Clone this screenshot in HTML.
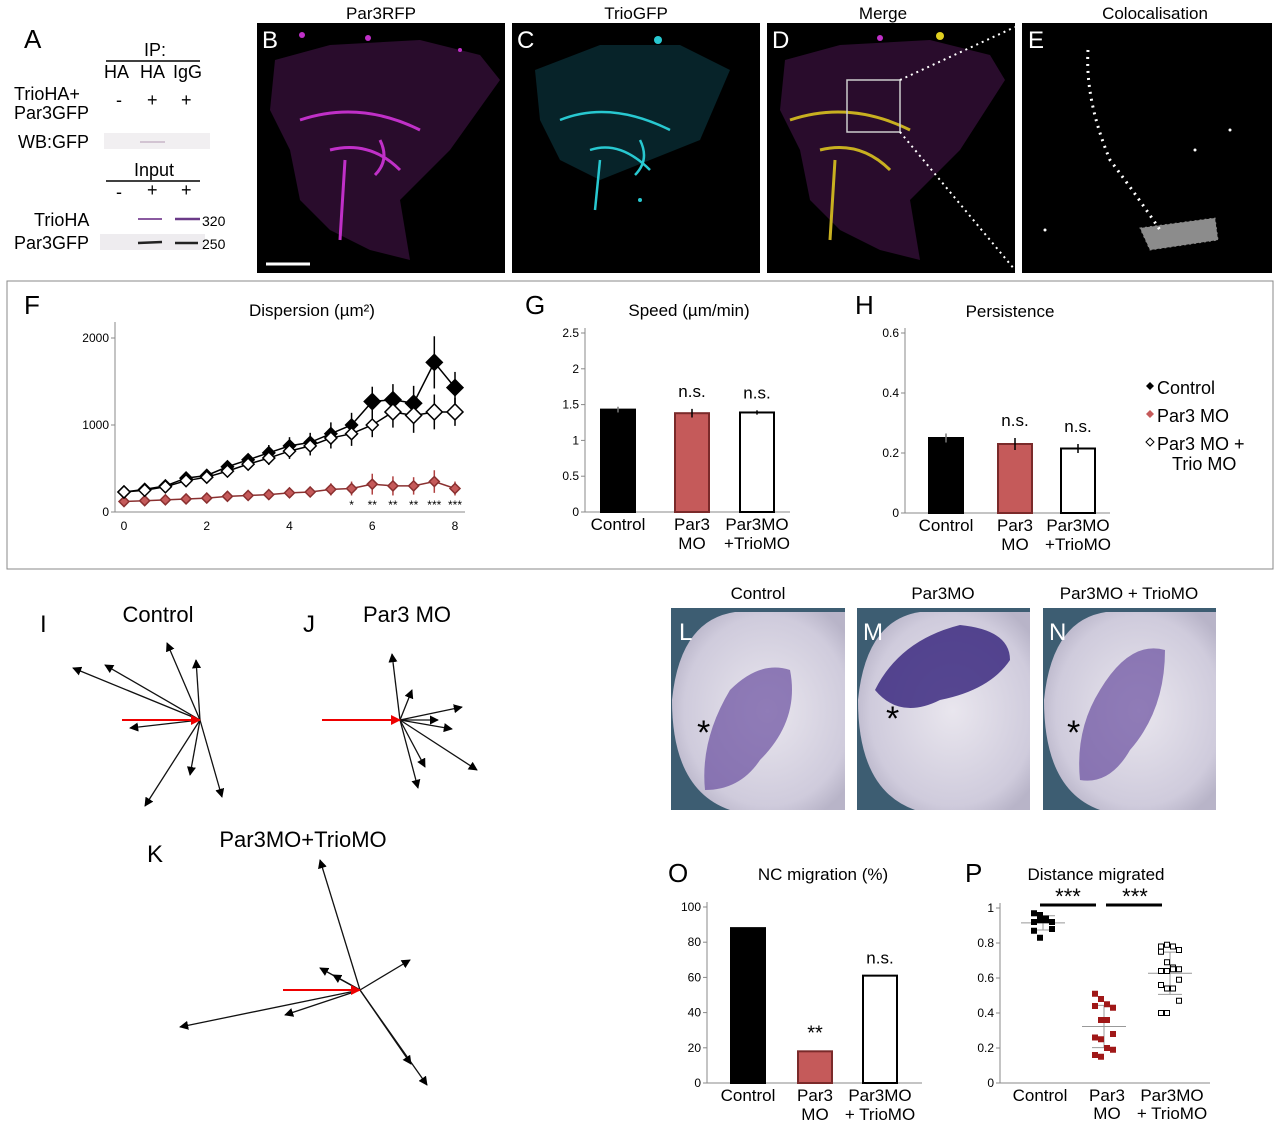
<!DOCTYPE html>
<html><head><meta charset="utf-8"><style>
html,body{margin:0;padding:0;background:#fff;}
svg{display:block;font-family:"Liberation Sans",Arial,sans-serif;}
</style></head><body>
<svg id="fig" width="1280" height="1126" viewBox="0 0 1280 1126" xmlns="http://www.w3.org/2000/svg">
<defs>
<marker id="ah" viewBox="0 0 10 10" refX="9" refY="5" markerWidth="7" markerHeight="7" orient="auto"><path d="M0,0L10,5L0,10z" fill="#000"/></marker>
<marker id="ahr" viewBox="0 0 10 10" refX="9" refY="5" markerWidth="5" markerHeight="5" orient="auto"><path d="M0,0L10,5L0,10z" fill="#e00"/></marker>
<radialGradient id="emb" cx="0.55" cy="0.5" r="0.6"><stop offset="0" stop-color="#e9e6ee"/><stop offset="0.8" stop-color="#cfcbdc"/><stop offset="1" stop-color="#b8b4c8"/></radialGradient>
</defs>

<!-- Panel A -->
<g font-size="18">
<text x="24" y="48" font-size="26">A</text>
<text x="155" y="56" text-anchor="middle">IP:</text>
<line x1="106" y1="61" x2="200" y2="61" stroke="#000" stroke-width="1.5"/>
<text x="104" y="78">HA</text><text x="140" y="78">HA</text><text x="173" y="78">IgG</text>
<text x="14" y="100">TrioHA+</text><text x="14" y="119">Par3GFP</text>
<text x="116" y="106">-</text><text x="147" y="106">+</text><text x="181" y="106">+</text>
<text x="18" y="148">WB:GFP</text>
<rect x="104" y="133" width="106" height="16" fill="#f1eff1"/>
<line x1="140" y1="142" x2="165" y2="142" stroke="#b49ab4" stroke-width="1"/>
<text x="154" y="176" text-anchor="middle">Input</text>
<line x1="106" y1="181" x2="200" y2="181" stroke="#000" stroke-width="1.5"/>
<text x="116" y="198">-</text><text x="147" y="196">+</text><text x="181" y="196">+</text>
<text x="34" y="226">TrioHA</text><text x="14" y="249">Par3GFP</text>
<line x1="138" y1="219" x2="162" y2="219" stroke="#8a5aa0" stroke-width="2"/>
<line x1="175" y1="219" x2="200" y2="219" stroke="#6a3a88" stroke-width="2.5"/>
<rect x="100" y="234" width="105" height="16" fill="#eeecef"/>
<line x1="138" y1="243" x2="162" y2="242" stroke="#222" stroke-width="2.5"/>
<line x1="175" y1="243" x2="198" y2="243" stroke="#222" stroke-width="2.5"/>
<text x="202" y="226" font-size="14">320</text><text x="202" y="249" font-size="14">250</text>
</g>

<!-- Microscopy panels -->
<g>
<text x="381" y="19" font-size="17" text-anchor="middle">Par3RFP</text>
<text x="636" y="19" font-size="17" text-anchor="middle">TrioGFP</text>
<text x="883" y="19" font-size="17" text-anchor="middle">Merge</text>
<text x="1155" y="19" font-size="17" text-anchor="middle">Colocalisation</text>
<rect x="257" y="23" width="248" height="250" fill="#000"/>
<path d="M275,60 L330,45 L420,40 L480,55 L500,80 L450,150 L400,200 L410,260 L370,250 L330,230 L300,200 L290,150 L270,110Z" fill="#4a1550" opacity="0.55"/>
<path d="M300,120 Q360,100 420,130 M330,150 Q370,140 400,170 M345,160 L340,240 M380,140 Q390,160 375,175" stroke="#c030c8" stroke-width="3" fill="none"/>
<circle cx="302" cy="35" r="3" fill="#c030c8"/><circle cx="368" cy="38" r="3" fill="#c030c8"/><circle cx="460" cy="50" r="2" fill="#c030c8"/>
<line x1="266" y1="264" x2="310" y2="264" stroke="#fff" stroke-width="3"/>
<text x="262" y="48" font-size="24" fill="#fff">B</text>
<rect x="512" y="23" width="248" height="250" fill="#000"/>
<path d="M535,70 L600,45 L680,45 L730,70 L700,140 L650,160 L600,180 L560,160 L540,120Z" fill="#0c3a44" opacity="0.6"/>
<path d="M560,120 Q610,100 670,130 M590,150 Q620,140 650,170 M600,160 L595,210 M640,140 Q650,160 635,175" stroke="#28c8d0" stroke-width="2.5" fill="none"/>
<circle cx="658" cy="40" r="4" fill="#28c8d0"/><circle cx="640" cy="200" r="2" fill="#28c8d0"/>
<text x="517" y="48" font-size="24" fill="#fff">C</text>
<rect x="767" y="23" width="248" height="250" fill="#000"/>
<path d="M785,60 L840,45 L930,40 L990,55 L1005,80 L960,150 L910,200 L920,260 L880,250 L840,230 L810,200 L800,150 L780,110Z" fill="#4a1550" opacity="0.55"/>
<path d="M790,120 Q850,100 910,130 M820,150 Q860,140 890,170 M835,160 L830,240" stroke="#c8b020" stroke-width="3" fill="none"/>
<circle cx="940" cy="36" r="4" fill="#e0d020"/><circle cx="880" cy="38" r="3" fill="#c030c8"/>
<rect x="847" y="80" width="53" height="52" fill="none" stroke="#ccc" stroke-width="1.5"/>
<line x1="900" y1="80" x2="1015" y2="27" stroke="#fff" stroke-width="2" stroke-dasharray="2,4"/>
<line x1="900" y1="132" x2="1015" y2="270" stroke="#fff" stroke-width="2" stroke-dasharray="2,4"/>
<text x="772" y="48" font-size="24" fill="#fff">D</text>
<rect x="1022" y="23" width="250" height="250" fill="#000"/>
<path d="M1088,50 Q1085,100 1110,160 Q1140,200 1160,230" stroke="#fff" stroke-width="3" fill="none" stroke-dasharray="2,5"/>
<path d="M1140,228 L1215,218 L1218,240 L1150,250Z" fill="#fff" opacity="0.55" stroke="#fff" stroke-dasharray="2,3"/>
<circle cx="1045" cy="230" r="1.5" fill="#fff"/><circle cx="1230" cy="130" r="1.5" fill="#fff"/><circle cx="1195" cy="150" r="1.5" fill="#fff"/>
<text x="1028" y="48" font-size="24" fill="#fff">E</text>
</g>

<rect x="7" y="281" width="1266" height="288" fill="none" stroke="#888" stroke-width="1"/>
<g id="chartF"></g>
<g id="chartG"></g>
<g id="chartH"></g>

<!-- Legend -->
<g font-size="18">
<g><path d="M1150,382 l4,4 l-4,4 l-4,-4z" fill="#000"/><text x="1157" y="394">Control</text></g>
<g><path d="M1150,410 l4,4 l-4,4 l-4,-4z" fill="#c55a5a"/><text x="1157" y="422">Par3 MO</text></g>
<g><path d="M1150,438 l4,4 l-4,4 l-4,-4z" fill="#fff" stroke="#000"/><text x="1157" y="450">Par3 MO +</text><text x="1172" y="470">Trio MO</text></g>
</g>

<!-- I J K -->
<g id="arrows">
<text x="40" y="632" font-size="24">I</text><text x="158" y="622" font-size="22" text-anchor="middle">Control</text>
<text x="303" y="632" font-size="24">J</text><text x="407" y="622" font-size="22" text-anchor="middle">Par3 MO</text>
<text x="147" y="862" font-size="24">K</text><text x="303" y="847" font-size="22" text-anchor="middle">Par3MO+TrioMO</text>
</g>

<!-- Embryos -->
<g font-size="17">
<text x="758" y="599" text-anchor="middle">Control</text>
<text x="943" y="599" text-anchor="middle">Par3MO</text>
<text x="1129" y="599" text-anchor="middle">Par3MO + TrioMO</text>
<g>
<rect x="671" y="608" width="174" height="202" fill="#3d5d72"/>
<path d="M845,612 L735,612 Q680,620 672,700 Q672,790 730,810 L845,810Z" fill="url(#emb)"/>
<path d="M705,790 Q700,740 730,690 Q760,660 790,670 Q800,720 760,760 Q740,790 705,790Z" fill="#6a4fa0" opacity="0.7"/>
<text x="697" y="744" font-size="34">*</text><text x="679" y="640" font-size="24" fill="#fff">L</text></g>
<g>
<rect x="857" y="608" width="173" height="202" fill="#3d5d72"/>
<path d="M1030,612 L920,612 Q866,620 858,700 Q858,790 915,810 L1030,810Z" fill="url(#emb)"/>
<path d="M875,690 Q900,640 960,625 Q1010,630 1010,660 Q990,690 940,700 Q900,720 875,690Z" fill="#3c2a80" opacity="0.85"/>
<text x="886" y="730" font-size="34">*</text><text x="863" y="640" font-size="24" fill="#fff">M</text></g>
<g>
<rect x="1043" y="608" width="173" height="202" fill="#3d5d72"/>
<path d="M1216,612 L1106,612 Q1052,620 1044,700 Q1044,790 1100,810 L1216,810Z" fill="url(#emb)"/>
<path d="M1080,780 Q1075,730 1100,690 Q1130,640 1165,650 Q1165,710 1130,750 Q1110,785 1080,780Z" fill="#6a4fa0" opacity="0.7"/>
<text x="1067" y="744" font-size="34">*</text><text x="1049" y="640" font-size="24" fill="#fff">N</text></g>
</g>

<g id="chartO"></g>
<g id="chartP"></g>
</svg>
<script>
// ---- Data ----
const fX = [0,0.5,1,1.5,2,2.5,3,3.5,4,4.5,5,5.5,6,6.5,7,7.5,8];
const fControl = [230,260,300,390,420,520,600,680,760,800,900,1000,1270,1290,1250,1720,1430];
const fControlErr = [30,30,40,40,40,60,70,90,100,110,130,140,170,180,200,300,180];
const fPar3Trio = [230,250,290,360,400,470,550,620,700,760,850,900,1000,1150,1110,1150,1150];
const fPar3TrioErr = [30,30,40,40,50,60,70,80,90,110,120,140,140,180,200,200,160];
const fPar3 = [120,130,140,150,160,180,190,200,220,230,260,270,320,300,300,350,270];
const fPar3Err = [20,20,20,30,30,30,40,40,50,60,70,80,120,110,100,130,80];
const fStars = ["","","","","","","","","","","","*","**","**","**","***","***"];
const fYTicks = [0,1000,2000];
const fXTicks = [0,2,4,6,8];
const barCats = ["Control","Par3 MO","Par3MO +TrioMO"];
const gValues = [1.43,1.38,1.39];
const gErr = [0.04,0.06,0.03];
const gTicks = [0,0.5,1,1.5,2,2.5];
const gSig = ["","n.s.","n.s."];
const hValues = [0.25,0.23,0.215];
const hErr = [0.015,0.02,0.015];
const hTicks = [0,0.2,0.4,0.6];
const oValues = [88,18,61];
const oTicks = [0,20,40,60,80,100];
const oSig = ["","**","n.s."];
const pControl = [0.97,0.96,0.93,0.92,0.92,0.93,0.94,0.88,0.87,0.83];
const pPar3 = [0.51,0.48,0.45,0.43,0.44,0.36,0.36,0.28,0.26,0.25,0.20,0.19,0.16,0.15];
const pPar3Trio = [0.78,0.79,0.78,0.76,0.75,0.69,0.66,0.65,0.64,0.64,0.65,0.59,0.56,0.54,0.54,0.47,0.40,0.40];
const pTicks = [0,0.2,0.4,0.6,0.8,1];
const iTracks = [[-127,-52],[-95,-55],[-33,-77],[-4,-60],[-70,8],[-10,55],[22,77],[-55,86]];
const jTracks = [[-8,-66],[12,-30],[62,-13],[38,0],[52,9],[25,47],[77,50],[18,68]];
const kTracks = [[-40,-130],[-180,37],[-40,-22],[50,-30],[-75,25],[-27,-15],[67,95],[51,74]];

const NS="http://www.w3.org/2000/svg";
function mk(parent,tag,attrs,txt){const e=document.createElementNS(NS,tag);for(const k in attrs)e.setAttribute(k,attrs[k]);if(txt!==undefined)e.textContent=txt;parent.appendChild(e);return e;}

// ---- F ----
(function(){
 const g=document.getElementById('chartF');
 const x0=115,xr0=124,xr1=455,y0=512,y1=338;
 const sx=v=>xr0+(xr1-xr0)*v/8, sy=v=>y0-(y0-y1)*v/2000;
 mk(g,'text',{x:24,y:314,'font-size':26},'F');
 mk(g,'text',{x:312,y:316,'font-size':17,'text-anchor':'middle'},'Dispersion (µm²)');
 mk(g,'line',{x1:x0,y1:322,x2:x0,y2:y0,stroke:'#888'});
 mk(g,'line',{x1:x0,y1:y0,x2:465,y2:y0,stroke:'#888'});
 fYTicks.forEach(t=>{mk(g,'line',{x1:x0-4,y1:sy(t),x2:x0,y2:sy(t),stroke:'#888'});mk(g,'text',{x:x0-6,y:sy(t)+4,'font-size':12,'text-anchor':'end'},t);});
 fXTicks.forEach(t=>{mk(g,'text',{x:sx(t),y:y0+18,'font-size':12,'text-anchor':'middle'},t);});
 function series(vals,errs,fill,stroke,name,size){
  const s=mk(g,'g',{});
  
  
  vals.forEach((v,i)=>mk(s,'line',{x1:sx(fX[i]),y1:sy(v-errs[i]),x2:sx(fX[i]),y2:sy(v+errs[i]),stroke:stroke==='#000'?'#000':'#b04040','stroke-width':1.5}));
  mk(s,'polyline',{points:vals.map((v,i)=>sx(fX[i])+','+sy(v)).join(' '),fill:'none',stroke:stroke,'stroke-width':1.5});
  vals.forEach((v,i)=>{const cx=sx(fX[i]),cy=sy(v),r=size+(v>1000?2:0);
   const p=mk(s,'path',{d:`M${cx},${cy-r}L${cx+r},${cy}L${cx},${cy+r}L${cx-r},${cy}Z`,fill:fill,stroke:stroke,'stroke-width':1.5});
   });
 }
 series(fPar3,fPar3Err,'#c55a5a','#8a3030','series-par3-mo',5);
 series(fControl,fControlErr,'#000','#000','series-control',6);
 series(fPar3Trio,fPar3TrioErr,'#fff','#000','series-par3-trio-mo',6);
 fStars.forEach((s,i)=>{if(s)mk(g,'text',{x:sx(fX[i]),y:y0-3,'font-size':12,'text-anchor':'middle'},s);});
})();

// ---- bar chart helper ----
function barChart(id,opts){
 const g=document.getElementById(id);
 const sy=v=>opts.y0-(opts.y0-opts.y1)*v/opts.max;
 mk(g,'text',{x:opts.lx,y:opts.ly,'font-size':26},opts.letter);
 mk(g,'text',{x:opts.tx,y:opts.ty,'font-size':17,'text-anchor':'middle'},opts.title);
 mk(g,'line',{x1:opts.ax,y1:opts.y1-5,x2:opts.ax,y2:opts.y0,stroke:'#888'});
 mk(g,'line',{x1:opts.ax,y1:opts.y0,x2:opts.ax+opts.w,y2:opts.y0,stroke:'#888'});
 opts.ticks.forEach(t=>{mk(g,'line',{x1:opts.ax-4,y1:sy(t),x2:opts.ax,y2:sy(t),stroke:'#888'});mk(g,'text',{x:opts.ax-6,y:sy(t)+4,'font-size':12,'text-anchor':'end'},t);});
 const fills=['#000','#c55a5a','#fff'],strokes=['#000','#7a2a2a','#000'];
 opts.vals.forEach((v,i)=>{
  const cx=opts.cx[i];
  const b=mk(g,'rect',{x:cx-opts.bw/2,y:sy(v),width:opts.bw,height:opts.y0-sy(v),fill:fills[i],stroke:strokes[i],'stroke-width':2});
  
  if(opts.err)mk(g,'line',{x1:cx,y1:sy(v-opts.err[i]),x2:cx,y2:sy(v+opts.err[i]),stroke:i===0?'#777':'#000','stroke-width':1.5});
  if(opts.sig&&opts.sig[i])mk(g,'text',{x:cx,y:sy(v+(opts.err?opts.err[i]:0))-12,'font-size':opts.sig[i]==='**'?20:17,'text-anchor':'middle'},opts.sig[i]);
  const lab=opts.labels[i];
  mk(g,'text',{x:cx,y:opts.y0+18,'font-size':17,'text-anchor':'middle'},lab[0]);
  if(lab[1])mk(g,'text',{x:cx,y:opts.y0+37,'font-size':17,'text-anchor':'middle'},lab[1]);
 });
}
barChart('chartG',{letter:'G',lx:525,ly:314,title:'Speed (µm/min)',tx:689,ty:316,ax:585,w:205,y0:512,y1:333,max:2.5,ticks:gTicks,vals:gValues,err:gErr,sig:gSig,cx:[618,692,757],bw:34,labels:[['Control'],['Par3','MO'],['Par3MO','+TrioMO']]});
barChart('chartH',{letter:'H',lx:855,ly:314,title:'Persistence',tx:1010,ty:317,ax:905,w:205,y0:513,y1:333,max:0.6,ticks:hTicks,vals:hValues,err:hErr,sig:['','n.s.','n.s.'],cx:[946,1015,1078],bw:34,labels:[['Control'],['Par3','MO'],['Par3MO','+TrioMO']]});
barChart('chartO',{letter:'O',lx:668,ly:882,title:'NC migration (%)',tx:823,ty:880,ax:707,w:215,y0:1083,y1:907,max:100,ticks:oTicks,vals:oValues,sig:oSig,cx:[748,815,880],bw:34,labels:[['Control'],['Par3','MO'],['Par3MO','+ TrioMO']]});

// ---- P ----
(function(){
 const g=document.getElementById('chartP');
 const ax=1000,y0=1083,y1=908,sy=v=>y0-(y0-y1)*v;
 mk(g,'text',{x:965,y:882,'font-size':26},'P');
 mk(g,'text',{x:1096,y:880,'font-size':17,'text-anchor':'middle'},'Distance migrated');
 mk(g,'line',{x1:ax,y1:y1-5,x2:ax,y2:y0,stroke:'#888'});
 mk(g,'line',{x1:ax,y1:y0,x2:1210,y2:y0,stroke:'#888'});
 pTicks.forEach(t=>{mk(g,'line',{x1:ax-4,y1:sy(t),x2:ax,y2:sy(t),stroke:'#888'});mk(g,'text',{x:ax-6,y:sy(t)+4,'font-size':12,'text-anchor':'end'},t);});
 const groups=[[pControl,1043,'#000','#000'],[pPar3,1104,'#a01818','#a01818'],[pPar3Trio,1170,'#fff','#000']];
 groups.forEach(([vals,cx,fill,st])=>{
  const mean=vals.reduce((a,b)=>a+b,0)/vals.length;
  const sd=Math.sqrt(vals.reduce((a,b)=>a+(b-mean)*(b-mean),0)/vals.length);
  mk(g,'line',{x1:cx-22,y1:sy(mean),x2:cx+22,y2:sy(mean),stroke:'#999'});
  mk(g,'line',{x1:cx-12,y1:sy(mean+sd),x2:cx+12,y2:sy(mean+sd),stroke:'#999'});
  mk(g,'line',{x1:cx-12,y1:sy(mean-sd),x2:cx+12,y2:sy(mean-sd),stroke:'#999'});
  mk(g,'line',{x1:cx,y1:sy(mean+sd),x2:cx,y2:sy(mean-sd),stroke:'#999'});
  vals.forEach((v,i)=>{const dx=((i%4)-1.5)*6;
   const r=mk(g,'rect',{x:cx+dx-2.5,y:sy(v)-2.5,width:5,height:5,fill:fill,stroke:st,'stroke-width':1});
   });
 });
 mk(g,'line',{x1:1040,y1:905,x2:1096,y2:905,stroke:'#000','stroke-width':3});
 mk(g,'line',{x1:1106,y1:905,x2:1162,y2:905,stroke:'#000','stroke-width':3});
 mk(g,'text',{x:1068,y:904,'font-size':22,'text-anchor':'middle'},'***');
 mk(g,'text',{x:1135,y:904,'font-size':22,'text-anchor':'middle'},'***');
 mk(g,'text',{x:1040,y:1101,'font-size':17,'text-anchor':'middle'},'Control');
 mk(g,'text',{x:1107,y:1101,'font-size':17,'text-anchor':'middle'},'Par3');
 mk(g,'text',{x:1107,y:1119,'font-size':17,'text-anchor':'middle'},'MO');
 mk(g,'text',{x:1172,y:1101,'font-size':17,'text-anchor':'middle'},'Par3MO');
 mk(g,'text',{x:1172,y:1119,'font-size':17,'text-anchor':'middle'},'+ TrioMO');
})();

// ---- Trajectories ----
(function(){
 const g=document.getElementById('arrows');
 function draw(ox,oy,tracks,redLen,name){
  const s=mk(g,'g',{});
  
  
  tracks.forEach(([dx,dy])=>mk(s,'line',{x1:ox,y1:oy,x2:ox+dx,y2:oy+dy,stroke:'#111','stroke-width':1.3,'marker-end':'url(#ah)'}));
  mk(s,'line',{x1:ox-redLen,y1:oy,x2:ox,y2:oy,stroke:'#e00','stroke-width':2,'marker-end':'url(#ahr)'});
 }
 draw(200,720,iTracks,78,'panel-i-control-tracks');
 draw(400,720,jTracks,78,'panel-j-par3mo-tracks');
 draw(360,990,kTracks,77,'panel-k-par3mo-triomo-tracks');
})();
</script>
</body></html>
